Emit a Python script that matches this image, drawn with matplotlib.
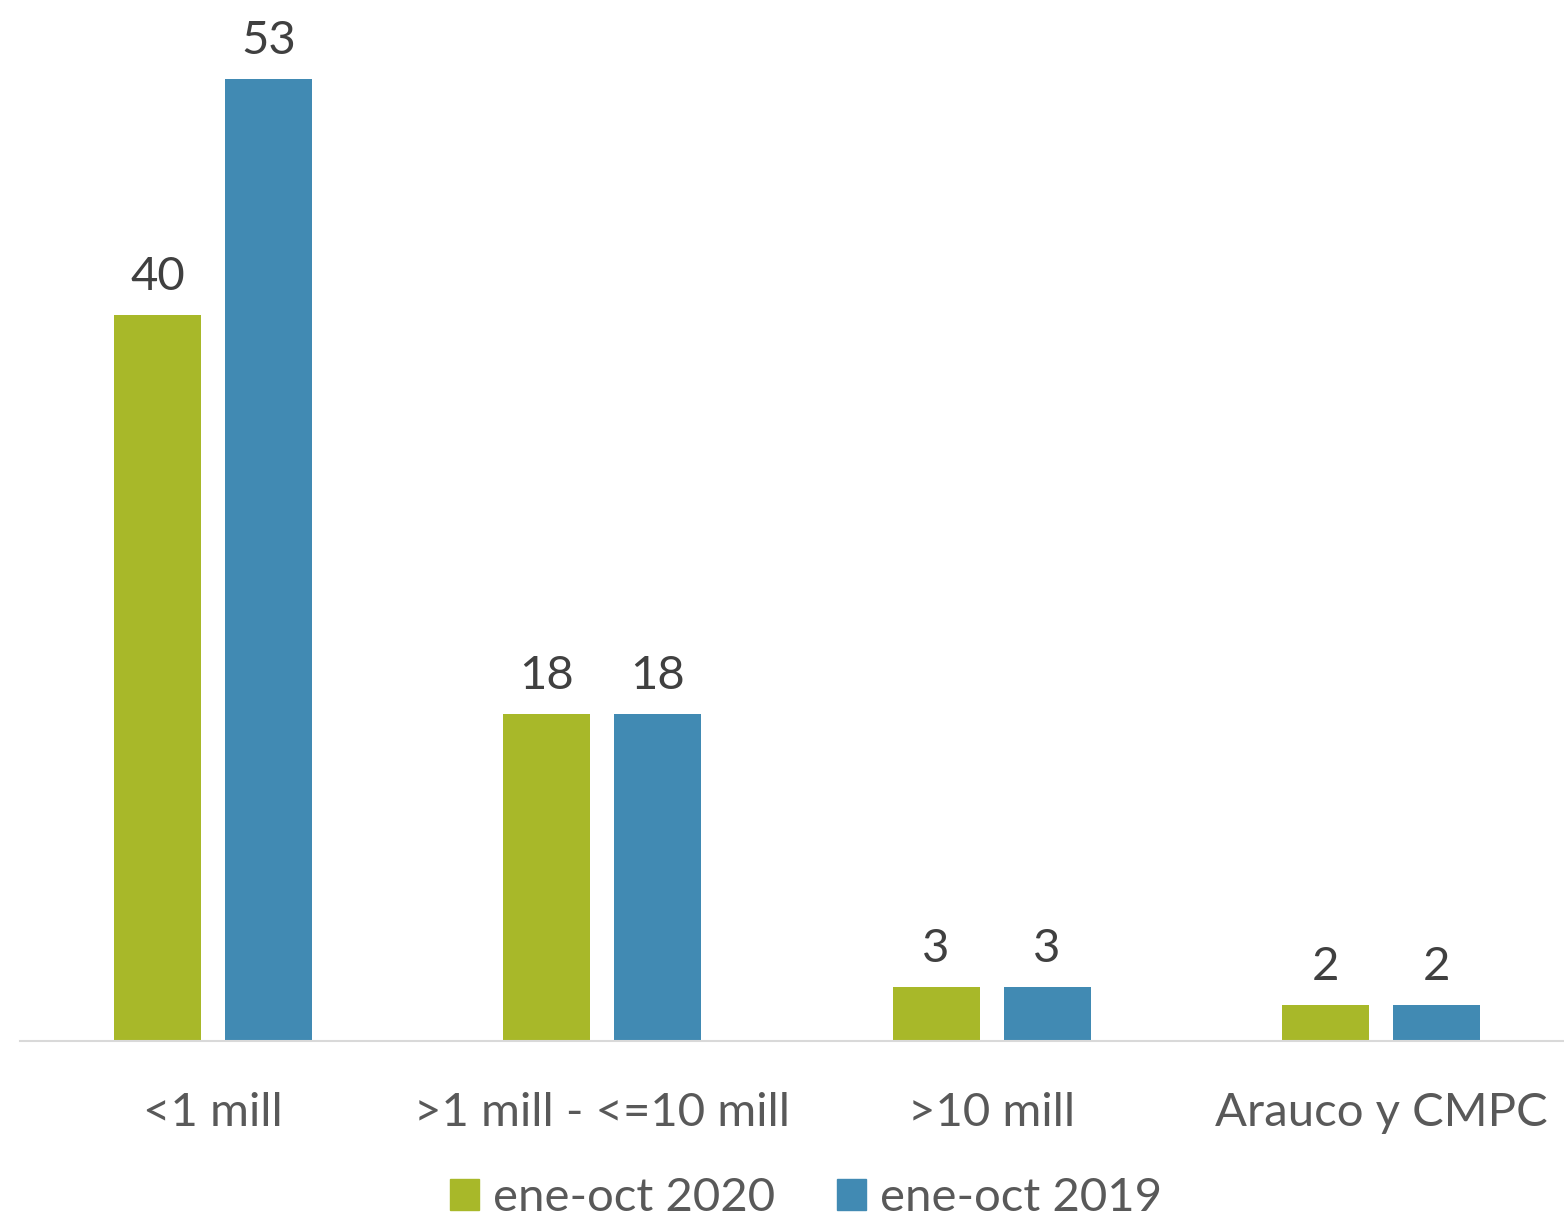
import numpy as np
import matplotlib
matplotlib.use("Agg")
import matplotlib.pyplot as plt
from matplotlib.patches import Patch

categories = ["<1 mill", ">1 mill - <=10 mill", ">10 mill", "Arauco y CMPC"]
series_names = ["ene-oct 2020", "ene-oct 2019"]
values_2020 = [40, 18, 3, 2]
values_2019 = [53, 18, 3, 2]

green = "#A8B829"
blue = "#418AB3"

plt.rcParams['font.family'] = ['Lato', 'DejaVu Sans']

fig = plt.figure(figsize=(15.64, 12.21), dpi=100)
ax = fig.add_axes([20 / 1564, 180 / 1221, 1544 / 1564, 1041 / 1221])

x = np.arange(len(categories))
w = 0.2235
off = 0.1426
b1 = ax.bar(x - off, values_2020, w, color=green)
b2 = ax.bar(x + off, values_2019, w, color=blue)

for bars, vals in [(b1, values_2020), (b2, values_2019)]:
    for rect, v in zip(bars, vals):
        ax.annotate(str(v), (rect.get_x() + rect.get_width() / 2, rect.get_height()),
                    xytext=(0, 18), textcoords="offset points",
                    ha="center", va="baseline", fontsize=34, color="#404040")

ax.set_xlim(-0.4958, 3.4703)
ax.set_ylim(0, 57.35)
ax.set_yticks([])
ax.set_xticks(x)
ax.set_xticklabels(categories, fontsize=34, color="#595959")
ax.tick_params(axis="x", length=0, pad=37)
for s in ["top", "right", "left"]:
    ax.spines[s].set_visible(False)
ax.spines["bottom"].set_color("#D9D9D9")
ax.spines["bottom"].set_linewidth(1.5)

handles = [Patch(color=green), Patch(color=blue)]
fig.legend(handles, series_names, loc="center", bbox_to_anchor=(806 / 1564, 1 - 1198 / 1221),
           ncol=2, frameon=False, fontsize=34, handlelength=0.62, handleheight=0.62,
           handletextpad=0.3, columnspacing=1.3, labelcolor="#595959")

fig.savefig("out.png", dpi=100)
